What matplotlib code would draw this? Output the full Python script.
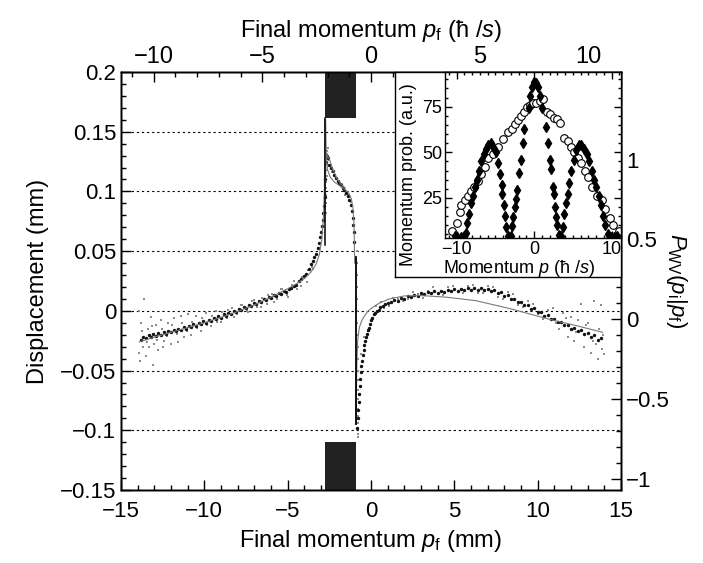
import numpy as np
import matplotlib.pyplot as plt
from matplotlib.ticker import MultipleLocator, FixedLocator

plt.rcParams['font.family'] = ['Liberation Sans', 'DejaVu Sans']
plt.rcParams['mathtext.fontset'] = 'custom'
plt.rcParams['mathtext.rm'] = 'Liberation Sans'
plt.rcParams['mathtext.it'] = 'Liberation Sans:italic'
plt.rcParams['font.size'] = 16

# ---------------- data ----------------
# measured displacement, dark points
meas_x = [-13.8, -13.65, -13.5, -13.35, -13.2, -13.05, -12.9, -12.75, -12.6, -12.45, -12.3, -12.15,
          -12.0, -11.85, -11.7, -11.55, -11.4, -11.25, -11.1, -10.95, -10.8, -10.65, -10.5, -10.35,
          -10.2, -10.05, -9.9, -9.75, -9.6, -9.45, -9.3, -9.15, -9.0, -8.85, -8.7, -8.55, -8.4,
          -8.25, -8.1, -7.95, -7.8, -7.65, -7.5, -7.35, -7.2, -7.05, -6.9, -6.75, -6.6, -6.45,
          -6.3, -6.15, -6.0, -5.85, -5.7, -5.55, -5.4, -5.25, -5.1, -4.95, -4.8, -4.65, -4.5,
          -4.35, -4.2, -4.05, -3.9, -3.75, -3.6, -3.5, -3.4, -3.3, -3.2, -3.12, -3.05, -3.0,
          -2.95, -2.9, -2.86, -2.82, -2.79,
          -2.75, -2.7, -2.65, -2.6, -2.5, -2.4, -2.3, -2.2, -2.1, -2.0, -1.9, -1.8, -1.7, -1.6,
          -1.5, -1.4, -1.3, -1.22, -1.15, -1.1, -1.06, -1.03, -1.0,
          -0.82, -0.79, -0.76, -0.73, -0.70, -0.67, -0.64, -0.61, -0.58, -0.55, -0.50, -0.45,
          -0.40, -0.35, -0.30, -0.25, -0.20, -0.15, -0.08, 0.0, 0.08, 0.16, 0.25, 0.35, 0.45,
          0.55, 0.7, 0.85, 1.0, 1.2, 1.4, 1.6, 1.8, 2.0, 2.2, 2.4, 2.6, 2.8, 3.0, 3.2, 3.4, 3.6,
          3.8, 4.0, 4.2, 4.4, 4.6, 4.8, 5.0, 5.2, 5.4, 5.6, 5.8, 6.0, 6.2, 6.4, 6.6, 6.8, 7.0,
          7.2, 7.4, 7.6, 7.8, 8.0, 8.2, 8.4, 8.6, 8.8, 9.0, 9.2, 9.4, 9.6, 9.8, 10.0, 10.2, 10.4,
          10.6, 10.8, 11.0, 11.2, 11.4, 11.6, 11.8, 12.0, 12.2, 12.4, 12.6, 12.8, 13.0, 13.2,
          13.4, 13.6, 13.8]
meas_y = [-0.0240, -0.0215, -0.0228, -0.0205, -0.0219, -0.0196, -0.0212, -0.0188, -0.0203, -0.0179,
          -0.0192, -0.0170, -0.0181, -0.0160, -0.0172, -0.0149, -0.0161, -0.0139, -0.0150, -0.0127,
          -0.0137, -0.0114, -0.0124, -0.0100, -0.0111, -0.0088, -0.0100, -0.0075, -0.0085, -0.0060,
          -0.0070, -0.0045, -0.0056, -0.0030, -0.0041, -0.0015, -0.0025, 0.0000, -0.0008, 0.0018,
          0.0010, 0.0035, 0.0025, 0.0052, 0.0042, 0.0068, 0.0058, 0.0083, 0.0073, 0.0099, 0.0090,
          0.0116, 0.0107, 0.0133, 0.0124, 0.0150, 0.0142, 0.0168, 0.0160, 0.0186, 0.0190, 0.0212,
          0.0220, 0.0248, 0.0270, 0.0290, 0.0310, 0.0350, 0.0390, 0.0420, 0.0450, 0.0480, 0.0530,
          0.0570, 0.0620, 0.0660, 0.0710, 0.0760, 0.0820, 0.0880, 0.0950,
          0.110, 0.125, 0.130, 0.128, 0.122, 0.120, 0.117, 0.114, 0.111, 0.109, 0.107, 0.105,
          0.103, 0.101, 0.099, 0.096, 0.093, 0.089, 0.084, 0.078, 0.072, 0.066, 0.058,
          -0.098, -0.090, -0.083, -0.076, -0.070, -0.063, -0.057, -0.051, -0.046, -0.042, -0.037,
          -0.033, -0.029, -0.025, -0.022, -0.019, -0.016, -0.014, -0.011, -0.008, -0.006, -0.003,
          -0.002, 0.000, 0.001, 0.003, 0.004, 0.0055, 0.0065, 0.0072, 0.0088, 0.0085, 0.0105,
          0.0100, 0.0122, 0.0115, 0.0135, 0.0128, 0.0148, 0.0138, 0.0157, 0.0146, 0.0165, 0.0152,
          0.0170, 0.0158, 0.0176, 0.0163, 0.0182, 0.0168, 0.0186, 0.0172, 0.0190, 0.0175, 0.0192,
          0.0176, 0.0190, 0.0172, 0.0185, 0.0165, 0.0175, 0.0150, 0.0155, 0.0128, 0.0130, 0.0100,
          0.0102, 0.0072, 0.0074, 0.0045, 0.0048, 0.0018, 0.0020, -0.0010, -0.0010, -0.0040,
          -0.0038, -0.0068, -0.0065, -0.0096, -0.0090, -0.0122, -0.0115, -0.0148, -0.0140,
          -0.0172, -0.0163, -0.0195, -0.0185, -0.0218, -0.0205, -0.0240, -0.0228]

# scattered single-shot points, light grey
noise_x = [-13.95, -13.9, -13.85, -13.8, -13.7, -13.6, -13.5, -13.4, -13.3, -13.2, -13.1, -13.0,
           -12.9, -12.8, -12.6, -12.5, -12.4, -12.2, -12.0, -11.8, -11.6, -11.4, -11.2, -11.0,
           -10.8, -10.5, -10.2, -9.9, -9.6, -9.3, -9.0, -8.6, -8.2, -7.8, -7.4, -7.0, -6.6, -6.2,
           -5.8, -5.4, -5.0, -4.6, -4.2, -3.8, -3.5, -3.2,
           -13.75, -13.45, -13.15, -12.85, -12.55, -12.25, -11.95, -11.65, -11.35, -11.05, -10.75,
           -10.45, -10.15, -9.85, -9.55, -9.25, -8.95, -8.65, -8.35, -8.05, -7.75, -7.45, -7.15,
           -6.85, -6.55, -6.25, -5.95, -5.65, -5.35, -5.05, -4.75, -4.45, -4.15, -3.85, -3.55,
           -2.72, -2.71, -2.70, -2.69, -2.68, -2.67, -2.66, -2.65, -2.64, -2.63, -2.62, -2.61,
           -2.55, -2.35, -2.15, -1.95, -1.75, -1.55, -1.35, -1.2,
           -0.84, -0.84, -0.83, -0.83, -0.83, -0.82, -0.82, -0.82, -0.81, -0.81, -0.81, -0.80,
           -0.80, -0.80, -0.80, -0.79, -0.79, -0.79, -0.79, -0.78,
           -0.6, -0.4, -0.2, 0.05, 0.3, 0.8, 1.3, 1.9, 2.5, 3.1, 3.7, 4.3, 4.9, 5.5, 6.1, 6.7,
           7.3, 7.9, 8.5, 9.1, 9.7, 10.3, 10.9, 11.3, 11.5, 11.8, 12.0, 12.2, 12.4, 12.6, 12.8,
           13.0, 13.2, 13.4, 13.5, 13.6, 13.7, 13.8, 13.85, 13.9, 13.95,
           0.6, 1.1, 1.6, 2.2, 2.8, 3.4, 4.0, 4.6, 5.2, 5.8, 6.4, 7.0, 7.6, 8.2, 8.8, 9.4, 10.0,
           10.6, 11.1, 11.7, 12.3, 12.9, 13.3]
noise_y = [-0.035, 0.000, -0.042, -0.010, -0.030, 0.010, -0.038, -0.015, -0.030, -0.005, -0.045,
           -0.028, -0.012, -0.033, -0.008, -0.030, -0.025, -0.010, -0.028, -0.006, -0.026, -0.004,
           -0.022, -0.003, -0.020, -0.004, -0.017, -0.002, -0.013, 0.000, -0.009, 0.001, -0.005,
           0.005, -0.001, 0.009, 0.003, 0.013, 0.007, 0.018, 0.012, 0.025, 0.021, 0.034, 0.035,
           0.053,
           -0.017, -0.026, -0.013, -0.024, -0.015, -0.021, -0.012, -0.019, -0.010, -0.017, -0.009,
           -0.014, -0.006, -0.012, -0.004, -0.009, -0.001, -0.006, 0.002, -0.003, 0.005, 0.000,
           0.008, 0.003, 0.011, 0.006, 0.014, 0.010, 0.018, 0.013, 0.022, 0.018, 0.028, 0.024,
           0.037,
           0.082, 0.090, 0.097, 0.103, 0.108, 0.113, 0.118, 0.123, 0.127, 0.131, 0.134, 0.136,
           0.126, 0.116, 0.114, 0.106, 0.106, 0.097, 0.097, 0.091,
           0.050, 0.040, 0.030, 0.020, 0.010, 0.000, -0.010, -0.020, -0.030, -0.040, -0.050,
           -0.058, -0.066, -0.074, -0.082, -0.088, -0.094, -0.099, -0.103, -0.106,
           -0.036, -0.022, -0.017, -0.006, 0.004, 0.002, 0.011, 0.008, 0.016, 0.011, 0.020, 0.013,
           0.021, 0.015, 0.022, 0.015, 0.020, 0.010, 0.014, 0.003, 0.006, -0.007, 0.002, -0.015,
           -0.002, -0.022, -0.005, -0.025, -0.008, 0.006, -0.030, -0.010, -0.035, 0.008, -0.028,
           -0.040, -0.015, 0.005, -0.032, -0.020, -0.036,
           0.007, 0.004, 0.010, 0.010, 0.014, 0.017, 0.014, 0.020, 0.016, 0.021, 0.015, 0.021,
           0.012, 0.016, 0.005, 0.008, -0.003, 0.001, -0.010, -0.006, -0.018, -0.012, -0.025]

# theory curves (thin grey)
theory_left_x = [-13.9, -13.0, -12.0, -11.0, -10.0, -9.0, -8.0, -7.0, -6.0, -5.0, -4.5, -4.0,
                 -3.6, -3.3, -3.1, -2.95, -2.85, -2.80, -2.78, -2.77]
theory_left_y = [-0.026, -0.022, -0.018, -0.014, -0.010, -0.0055, -0.0005, 0.005, 0.0115, 0.0185,
                 0.0225, 0.027, 0.0325, 0.039, 0.047, 0.060, 0.080, 0.100, 0.130, 0.160]
theory_mid_x = [-2.72, -2.68, -2.6, -2.45, -2.2, -1.9, -1.6, -1.35, -1.18, -1.08, -1.03, -1.0,
                -0.98]
theory_mid_y = [0.160, 0.128, 0.118, 0.112, 0.108, 0.105, 0.102, 0.099, 0.094, 0.086, 0.075, 0.060,
                0.040]
theory_loop_x = [-2.76, -2.74, -2.70, -2.62, -2.50, -2.30, -2.05, -1.80, -1.55]
theory_loop_y = [0.075, 0.105, 0.124, 0.130, 0.127, 0.119, 0.111, 0.106, 0.103]
theory_right_x = [-0.9, -0.88, -0.85, -0.8, -0.7, -0.55, -0.4, -0.2, 0.1, 0.5, 1.1, 2.0, 3.0,
                  4.5, 6.3, 8.3, 10.7, 12.5, 13.9]
theory_right_y = [-0.095, -0.070, -0.045, -0.025, -0.014, -0.008, -0.0045, -0.0005, 0.003, 0.0065,
                  0.010, 0.0125, 0.0128, 0.0115, 0.0085, 0.002, -0.007, -0.013, -0.018]
# steep black segments through the pole region
pole_left_x = [-2.76, -2.76]
pole_left_y = [0.1615, 0.055]
pole_right_x = [-0.93, -0.93]
pole_right_y = [0.045, -0.095]

# blocked region (black bars)
block_x = [-2.76, -0.90]
block_top_y = [0.1615, 0.2]
block_bot_y = [-0.15, -0.110]

grid_levels = [0.15, 0.1, 0.05, 0, -0.05, -0.1]
left_ticks = [0.2, 0.15, 0.1, 0.05, 0, -0.05, -0.1, -0.15]
left_labels = ['0.2', '0.15', '0.1', '0.05', '0', '\u22120.05', '\u22120.1', '\u22120.15']
right_ticks = [1, 0.5, 0, -0.5, -1]
right_labels = ['1', '0.5', '0', '\u22120.5', '\u22121']

# inset: momentum distributions
diam_x = [-0.3, 0.0, 0.3, 0.5, -0.5, 0.8, -0.7, 1.0, -1.3, 1.5, -1.5, 1.75, -1.7, 2.0, -1.9, 2.2,
          -2.2, 2.4, -2.3, 2.6, -2.5, 2.65, -2.7, 2.8, -2.9, 3.0, -3.0, 3.2,
          -3.4, -3.6, -3.8, -3.9, -4.1, -4.2, -4.4, -4.6, -4.9, -5.3, -5.6, -5.9, -6.2, -6.5, -6.8,
          -7.1, -7.4, -7.6, -7.9, -8.2, -8.4, -8.6, -8.8, -9.1, -9.5, -9.9, -10.2,
          3.5, 3.7, 3.9, 4.1, 4.3, 4.5, 4.8, 5.1, 5.4, 5.8, 6.1, 6.4, 6.8, 7.1, 7.4, 7.7, 8.0, 8.3,
          8.6, 8.9, 9.2, 9.5, 9.9, 10.3, 10.7]
diam_y = [86, 88.5, 88, 86, 81, 81, 74, 74, 63, 64, 55, 55, 46, 46, 38.5, 41, 29.5, 31, 24.5, 27,
          20, 20, 14.5, 14.5, 9.5, 10, 4, 4.5,
          4, 9, 15, 21, 27, 32, 38, 44, 50, 53, 55, 54, 52, 49, 45, 40, 35, 31, 26, 22, 16, 11, 6,
          4, 3.5, 3.5, 4,
          4, 9, 16, 22, 27, 33, 40, 46, 51, 54, 54, 52, 49, 45, 40, 35, 31, 26, 21, 15, 10, 5, 3.5,
          3.5, 4]
circ_x = [-10.6, -10.0, -9.6, -9.4, -8.9, -8.5, -8.1, -7.7, -7.3, -6.8, -6.4, -6.0, -5.3, -4.7,
          -4.0, -3.4, -2.9, -2.5, -2.1, -1.7, -1.3, -0.9, -0.5, -0.1, 0.3, 0.75, 1.2, 1.6, 2.0, 2.5,
          2.9, 3.3, 3.9, 4.3, 4.7, 5.1, 5.6, 6.0, 6.5, 6.9, 7.5, 8.1, 8.8, 9.2, 9.8, 10.2, 10.9]
circ_y = [7, 11, 17, 21, 24, 26, 29, 31, 34, 38, 42, 47, 49, 53, 57, 61, 63, 65.5, 67.5, 70, 72,
          75, 76, 77, 77, 78, 79, 72, 71, 69, 68, 66, 58, 56, 53, 50, 47, 44, 40, 36.5, 31, 26,
          24, 19, 14, 10, 7]

# ---------------- figure ----------------
W, H = 703, 563
fig = plt.figure(figsize=(W / 100, H / 100), dpi=100)


def box(l, t, r, b):
    return [l / W, 1 - b / H, (r - l) / W, (b - t) / H]


ax = fig.add_axes(box(121, 72, 621, 490))
for v in grid_levels:
    ax.axhline(v, color='k', lw=0.8, ls=(0, (2, 2.6)), zorder=1)
ax.fill_between(block_x, block_top_y[0], block_top_y[1], color='#222222', lw=0, zorder=4)
ax.fill_between(block_x, block_bot_y[0], block_bot_y[1], color='#222222', lw=0, zorder=4)

ax.scatter(noise_x, noise_y, s=3, c='#8c8c8c', marker='s', lw=0, zorder=2)
ax.scatter(meas_x, meas_y, s=6, c='#111111', marker='o', lw=0, zorder=3)
for xs, ys in [(theory_left_x, theory_left_y), (theory_mid_x, theory_mid_y),
               (theory_loop_x, theory_loop_y), (theory_right_x, theory_right_y)]:
    ax.plot(xs, ys, color='#7a7a7a', lw=0.8, zorder=3)
ax.plot(pole_left_x, pole_left_y, color='k', lw=1.1, zorder=3)
ax.plot(pole_right_x, pole_right_y, color='k', lw=1.3, zorder=3)

ax.set_xlim(-15, 15)
ax.set_ylim(-0.15, 0.2)
ax.xaxis.set_major_locator(MultipleLocator(5))
ax.xaxis.set_minor_locator(MultipleLocator(1))
ax.yaxis.set_major_locator(FixedLocator(left_ticks))
ax.yaxis.set_minor_locator(MultipleLocator(0.01))
ax.set_yticklabels(left_labels)
ax.tick_params(which='both', direction='in', top=False, right=False, width=1)
ax.tick_params(which='major', length=7)
ax.tick_params(which='minor', length=3.5)
ax.tick_params(axis='x', pad=8)
ax.set_xlabel('Final momentum $p_{\\rm f}$ (mm)', fontsize=17, labelpad=4)
ax.set_ylabel('Displacement (mm)', fontsize=17, labelpad=8)

axr = ax.twinx()
axr.set_ylim(-1.072, 1.549)
axr.yaxis.set_major_locator(FixedLocator(right_ticks))
axr.yaxis.set_minor_locator(MultipleLocator(0.1))
axr.set_yticklabels(right_labels)
axr.tick_params(which='both', direction='in', width=1)
axr.tick_params(which='major', length=7)
axr.tick_params(which='minor', length=3.5)
axr.set_ylabel('$P_{\\rm WV}(p_{\\rm i}|p_{\\rm f})$', fontsize=16, rotation=270, labelpad=14)

axt = ax.twiny()
axt.set_xlim(-11.5, 11.5)
axt.xaxis.set_major_locator(MultipleLocator(5))
axt.xaxis.set_minor_locator(MultipleLocator(1))
axt.tick_params(which='both', direction='in', width=1)
axt.tick_params(which='major', length=7)
axt.tick_params(which='minor', length=3.5)
axt.tick_params(axis='x', labelsize=17, pad=3)
axt.set_xlabel('Final momentum $p_{\\rm f}$ (\u0127 /$s$)', fontsize=17, labelpad=6)

for a in (ax, axr, axt):
    for s in a.spines.values():
        s.set_linewidth(1)

# white panel holding the inset
panel = fig.add_axes(box(395, 72, 621, 277))
panel.set_xticks([])
panel.set_yticks([])
panel.set_zorder(5)
for s in panel.spines.values():
    s.set_linewidth(1)

ins = fig.add_axes(box(445, 72, 621, 238))
ins.set_zorder(6)
ins.plot(circ_x, circ_y, 'o', ms=5.5, mfc='white', mec='k', mew=0.8, clip_on=True)
ins.plot(diam_x, diam_y, 'd', ms=5.5, color='k', clip_on=True)
ins.set_xlim(-11.5, 11.2)
ins.set_ylim(3, 94)
ins.xaxis.set_major_locator(MultipleLocator(10))
ins.xaxis.set_minor_locator(MultipleLocator(1))
ins.yaxis.set_major_locator(FixedLocator([25, 50, 75]))
ins.yaxis.set_minor_locator(MultipleLocator(5))
ins.tick_params(which='both', direction='in', top=True, right=True, width=1, pad=2,
                labelsize=13)
ins.tick_params(which='major', length=5)
ins.tick_params(which='minor', length=2.5)
ins.set_xlabel('Momentum $p$ (\u0127 /$s$)', fontsize=13)
ins.xaxis.set_label_coords(0.42, -0.12)
ins.set_ylabel('Momentum prob. (a.u.)', fontsize=13)
ins.yaxis.set_label_coords(-0.16, 0.383)
for s in ins.spines.values():
    s.set_linewidth(1)

fig.savefig('out.png', dpi=100)
